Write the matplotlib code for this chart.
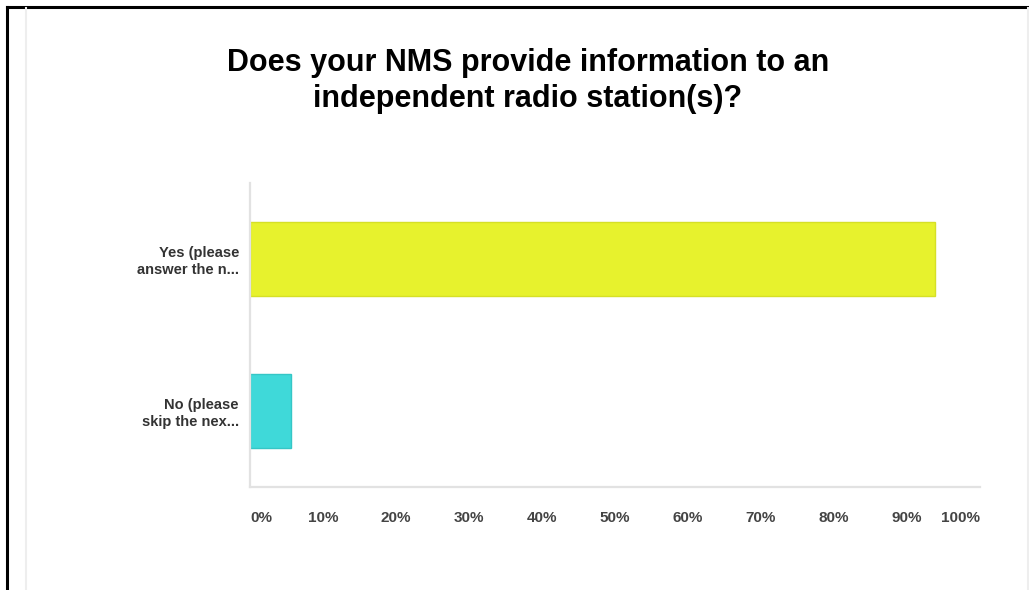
import matplotlib.pyplot as plt
from matplotlib.lines import Line2D

title = "Does your NMS provide information to an\nindependent radio station(s)?"
answers = ["Yes (please\nanswer the n...", "No (please\nskip the nex..."]
percent = [93.9, 5.6]
colors = ["#e7f22d", "#3fd9d9"]
edges = ["#d6e026", "#35c6c6"]
ticks = [0, 10, 20, 30, 40, 50, 60, 70, 80, 90, 100]
tick_labels = [f"{t}%" for t in ticks]

plt.rcParams['font.family'] = ['Liberation Sans', 'DejaVu Sans']

W, H = 1029, 590
fig = plt.figure(figsize=(W / 100, H / 100), dpi=100)
ax = fig.add_axes([250 / W, (H - 487) / H, 730 / W, 304 / H])

ax.barh(range(len(answers)), percent, height=0.49, color=colors,
        edgecolor=edges, linewidth=1)
ax.set_ylim(1.5, -0.5)
ax.set_xlim(0, 100)

ax.set_yticks(range(len(answers)))
ax.set_yticklabels(answers, fontsize=10.5, fontweight='bold', color='#333333',
                   linespacing=1.25)
ax.set_xticks(ticks)
ax.set_xticklabels(tick_labels, fontsize=11, fontweight='bold', color='#444444')
ax.tick_params(axis='both', length=0)
ax.tick_params(axis='x', pad=17)
ax.tick_params(axis='y', pad=8)
lbls = ax.get_xticklabels()
lbls[0].set_ha('left')
lbls[-1].set_ha('right')

for s in ['top', 'right']:
    ax.spines[s].set_visible(False)
for s in ['left', 'bottom']:
    ax.spines[s].set_color('#e2e2e2')
    ax.spines[s].set_linewidth(1.6)

fig.text(528 / W, 1 - 81 / H, title, ha='center', va='center', fontsize=22,
         fontweight='bold', color='#000000', linespacing=1.25)

# frame lines from the screenshot
fig.add_artist(Line2D([6.5 / W, 6.5 / W], [0, 1 - 6.5 / H], color='black', lw=2.2,
                      transform=fig.transFigure))
fig.add_artist(Line2D([6.5 / W, 1], [1 - 6.5 / H, 1 - 6.5 / H], color='black', lw=2.2,
                      transform=fig.transFigure))
fig.add_artist(Line2D([25.5 / W, 25.5 / W], [0, 1 - 8 / H], color='#eeeeee', lw=1.5,
                      transform=fig.transFigure))
fig.add_artist(Line2D([1028 / W, 1028 / W], [0, 1 - 8 / H], color='#eeeeee', lw=1.5,
                      transform=fig.transFigure))

plt.savefig('out.png', dpi=100)
